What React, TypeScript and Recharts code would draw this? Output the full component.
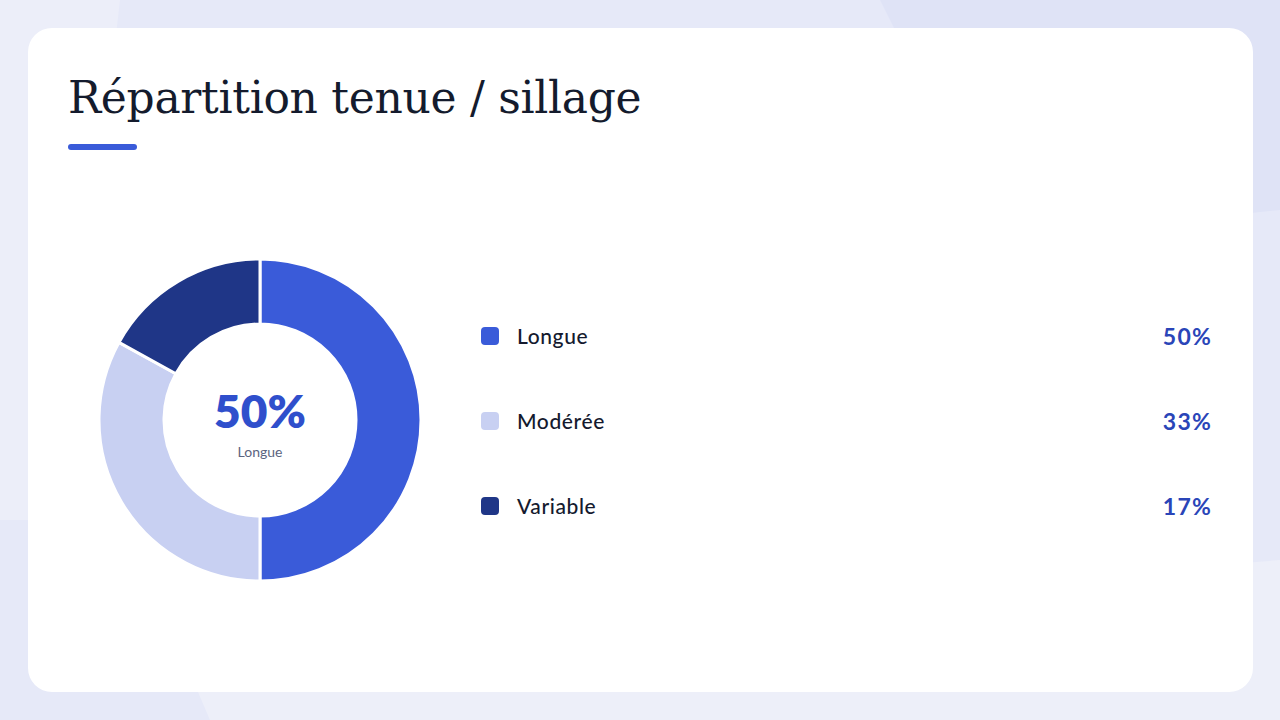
import React from 'react';
import { PieChart, Pie, Cell } from 'recharts';

const categories = ['Longue', 'Modérée', 'Variable'];
const shares = [50, 33, 17];
const colors = ['#3a5bd9', '#c8d0f2', '#1f3687'];

const data = categories.map((name, i) => ({ name, value: shares[i] }));

const sans = 'Lato, "Noto Sans", sans-serif';

const App: React.FC = () => {
  return (
    <div style={{ position: 'fixed', left: 0, top: 0, width: 1280, height: 720, overflow: 'hidden', background: '#e6e9f8' }}>
      {/* background shapes */}
      <div style={{ position: 'absolute', inset: 0, background: '#dfe3f6', clipPath: 'polygon(880px 0, 1280px 0, 1280px 210px, 1000px 240px)' }} />
      <div style={{ position: 'absolute', inset: 0, background: '#eceef9', clipPath: 'polygon(0 0, 120px 0, 60px 520px, 0 520px)' }} />
      <div style={{ position: 'absolute', inset: 0, background: '#edeff9', clipPath: 'polygon(210px 720px, 180px 650px, 1280px 560px, 1280px 720px)' }} />

      <div style={{ position: 'absolute', left: 28, top: 28, width: 1225, height: 664, background: '#ffffff', borderRadius: 24 }}>
        <div style={{ position: 'absolute', left: 40, top: 44, fontFamily: '"DejaVu Serif", serif', fontSize: 44, color: '#141b2d', whiteSpace: 'nowrap', lineHeight: 1.2, letterSpacing: -0.3 }}>
          Répartition tenue / sillage
        </div>
        <div style={{ position: 'absolute', left: 40, top: 116, width: 69, height: 6, borderRadius: 3, background: '#3a5bd9' }} />

        <div style={{ position: 'absolute', left: 62, top: 222 }}>
          <PieChart width={340} height={340} margin={{ top: 0, right: 0, bottom: 0, left: 0 }}>
            <Pie
              data={data}
              dataKey="value"
              nameKey="name"
              cx={170}
              cy={170}
              innerRadius={96}
              outerRadius={161}
              startAngle={90}
              endAngle={-270}
              stroke="#ffffff"
              strokeWidth={3}
              isAnimationActive={false}
            >
              {data.map((d, i) => (
                <Cell key={d.name} fill={colors[i]} />
              ))}
            </Pie>
          </PieChart>
          <div style={{ position: 'absolute', left: 0, top: 136, width: 340, textAlign: 'center', fontFamily: sans, fontWeight: 800, fontSize: 46, color: '#2f4fcc', lineHeight: '50px' }}>
            {shares[0]}%
          </div>
          <div style={{ position: 'absolute', left: 0, top: 194, width: 340, textAlign: 'center', fontFamily: sans, fontSize: 14, color: '#5b6480', lineHeight: '16px' }}>
            {categories[0]}
          </div>
        </div>

        {data.map((d, i) => (
          <div key={d.name} style={{ position: 'absolute', left: 453, top: 294 + i * 85, width: 731, height: 28 }}>
            <div style={{ position: 'absolute', left: 0, top: 5, width: 18, height: 18, borderRadius: 4, background: colors[i] }} />
            <div style={{ position: 'absolute', left: 36, top: 0, fontFamily: sans, fontWeight: 500, fontSize: 21, letterSpacing: 0.6, color: '#141a2e', lineHeight: '28px' }}>
              {d.name}
            </div>
            <div style={{ position: 'absolute', right: 0, top: 0, fontFamily: sans, fontWeight: 700, fontSize: 23, letterSpacing: 1.2, color: '#2a45b8', lineHeight: '28px' }}>
              {d.value}%
            </div>
          </div>
        ))}
      </div>
    </div>
  );
};

export default App;
